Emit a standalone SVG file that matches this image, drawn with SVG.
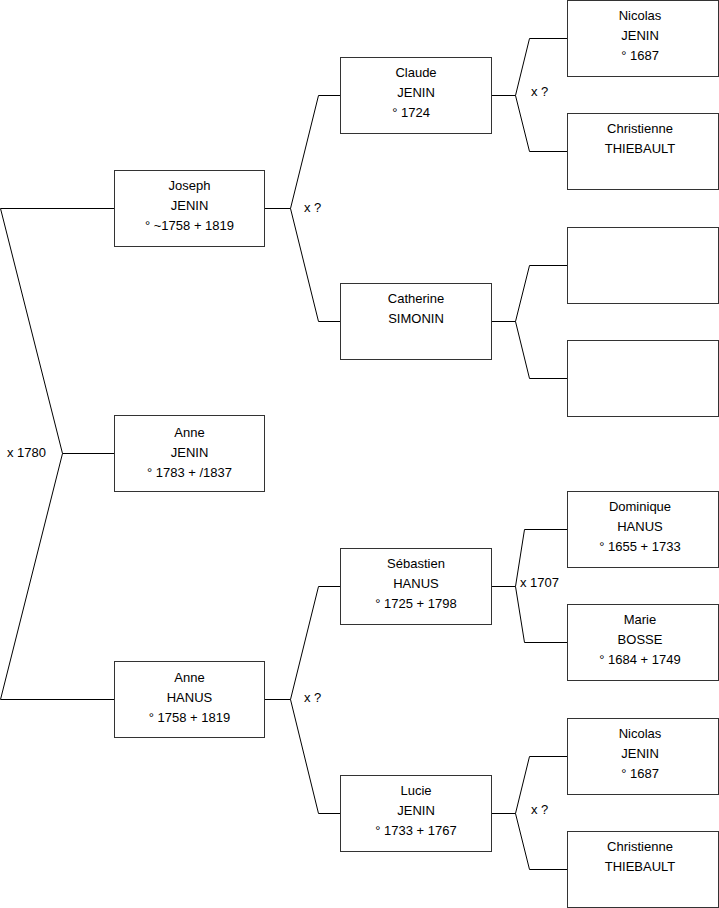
<svg xmlns="http://www.w3.org/2000/svg" width="719" height="908" viewBox="0 0 719 908">
<style>
.b{fill:#fff;stroke:#333;stroke-width:1}
.t{font-family:"Liberation Sans",Arial,sans-serif;font-size:13px;fill:#000;text-anchor:middle}
.l{font-family:"Liberation Sans",Arial,sans-serif;font-size:13px;fill:#000}
.c{fill:none;stroke:#000;stroke-width:1}
</style>
<rect width="719" height="908" fill="#fff"/>
<g id="connectors">
<path class="c" d="M114.5,208.5H0.5L62.5,453.5L0.5,699.5H114.5M62.5,453.5H114.5"/>
<path class="c" d="M265,208.5H290.5L318.5,95.5H340M290.5,208.5L318.5,321.5H340"/>
<path class="c" d="M491,95.5H515.5L529.5,38.5H567M515.5,95.5L529.5,151.5H567"/>
<path class="c" d="M491,321.5H515.5L529.5,265.5H567M515.5,321.5L529.5,378.5H567"/>
<path class="c" d="M265,699.5H290.5L318.5,586.5H340M290.5,699.5L318.5,813.5H340"/>
<path class="c" d="M491,586.5H515.5L524.5,529.5H567M515.5,586.5L524.5,642.5H567"/>
<path class="c" d="M491,813.5H515.5L529.5,756.5H567M515.5,813.5L529.5,869.5H567"/>
<text class="l" x="7" y="457">x 1780</text>
<text class="l" x="304" y="212">x ?</text>
<text class="l" x="531" y="96">x ?</text>
<text class="l" x="304" y="702">x ?</text>
<text class="l" x="520" y="587">x 1707</text>
<text class="l" x="531" y="814">x ?</text>
</g>
<g id="joseph"><rect class="b" x="114.5" y="170.5" width="150" height="76"/><text class="t" x="189.5" y="190">Joseph</text><text class="t" x="189.5" y="210">JENIN</text><text class="t" x="189.5" y="230">° ~1758 + 1819</text></g>
<g id="anne-jenin"><rect class="b" x="114.5" y="415.5" width="150" height="76"/><text class="t" x="189.5" y="437">Anne</text><text class="t" x="189.5" y="457">JENIN</text><text class="t" x="189.5" y="477">° 1783 + /1837</text></g>
<g id="anne-hanus"><rect class="b" x="114.5" y="661.5" width="150" height="76"/><text class="t" x="189.5" y="682">Anne</text><text class="t" x="189.5" y="702">HANUS</text><text class="t" x="189.5" y="722">° 1758 + 1819</text></g>
<g id="claude"><rect class="b" x="340.5" y="57.5" width="151" height="76"/><text class="t" x="416" y="77">Claude</text><text class="t" x="416" y="97">JENIN</text><text class="t" x="411" y="117">° 1724</text></g>
<g id="catherine"><rect class="b" x="340.5" y="283.5" width="151" height="76"/><text class="t" x="416" y="303">Catherine</text><text class="t" x="416" y="323">SIMONIN</text></g>
<g id="sebastien"><rect class="b" x="340.5" y="548.5" width="151" height="76"/><text class="t" x="416" y="568">Sébastien</text><text class="t" x="416" y="588">HANUS</text><text class="t" x="416" y="608">° 1725 + 1798</text></g>
<g id="lucie"><rect class="b" x="340.5" y="775.5" width="151" height="76"/><text class="t" x="416" y="795">Lucie</text><text class="t" x="416" y="815">JENIN</text><text class="t" x="416" y="835">° 1733 + 1767</text></g>
<g id="nicolas1"><rect class="b" x="567.5" y="0.5" width="151" height="76"/><text class="t" x="640" y="20">Nicolas</text><text class="t" x="640" y="40">JENIN</text><text class="t" x="640" y="60">° 1687</text></g>
<g id="christienne1"><rect class="b" x="567.5" y="113.5" width="151" height="76"/><text class="t" x="640" y="133">Christienne</text><text class="t" x="640" y="153">THIEBAULT</text></g>
<g id="empty1"><rect class="b" x="567.5" y="227.5" width="151" height="76"/></g>
<g id="empty2"><rect class="b" x="567.5" y="340.5" width="151" height="76"/></g>
<g id="dominique"><rect class="b" x="567.5" y="491.5" width="151" height="76"/><text class="t" x="640" y="511">Dominique</text><text class="t" x="640" y="531">HANUS</text><text class="t" x="640" y="551">° 1655 + 1733</text></g>
<g id="marie"><rect class="b" x="567.5" y="604.5" width="151" height="76"/><text class="t" x="640" y="624">Marie</text><text class="t" x="640" y="644">BOSSE</text><text class="t" x="640" y="664">° 1684 + 1749</text></g>
<g id="nicolas2"><rect class="b" x="567.5" y="718.5" width="151" height="76"/><text class="t" x="640" y="738">Nicolas</text><text class="t" x="640" y="758">JENIN</text><text class="t" x="640" y="778">° 1687</text></g>
<g id="christienne2"><rect class="b" x="567.5" y="831.5" width="151" height="76"/><text class="t" x="640" y="851">Christienne</text><text class="t" x="640" y="871">THIEBAULT</text></g>
</svg>
